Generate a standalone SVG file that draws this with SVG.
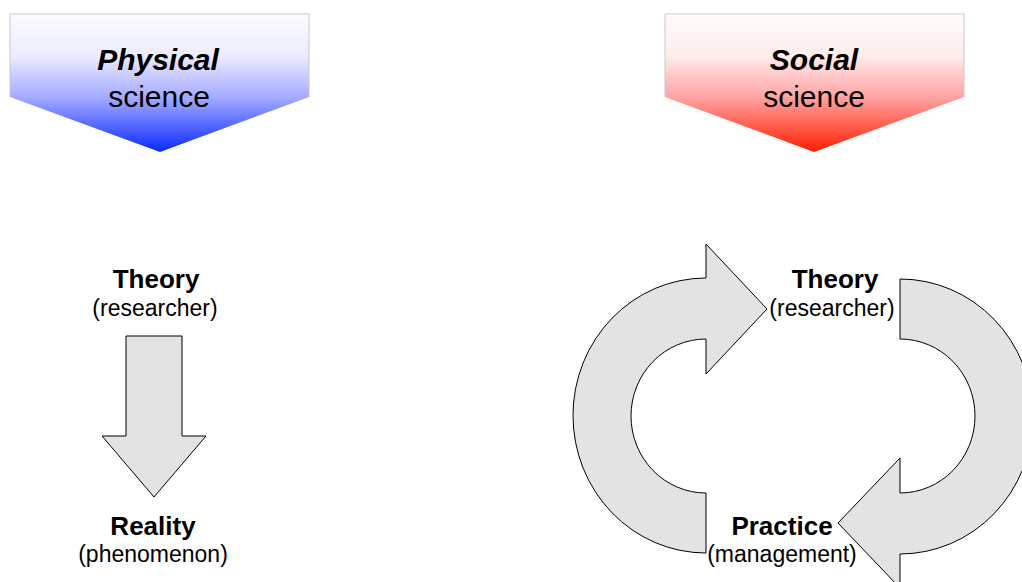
<svg xmlns="http://www.w3.org/2000/svg" width="1022" height="582" viewBox="0 0 1022 582">
  <defs>
    <linearGradient id="gradBlue" x1="0" y1="14" x2="0" y2="152" gradientUnits="userSpaceOnUse">
      <stop offset="0" stop-color="#fcfcff"/>
      <stop offset="0.3" stop-color="#ececff"/>
      <stop offset="0.6" stop-color="#a6acff"/>
      <stop offset="1" stop-color="#0a2aff"/>
    </linearGradient>
    <linearGradient id="gradRed" x1="0" y1="14" x2="0" y2="152" gradientUnits="userSpaceOnUse">
      <stop offset="0" stop-color="#fffcfc"/>
      <stop offset="0.3" stop-color="#ffecec"/>
      <stop offset="0.6" stop-color="#ffa4a4"/>
      <stop offset="1" stop-color="#ff1e00"/>
    </linearGradient>
  </defs>
  <style>
    .label { font-family: "Liberation Sans", Arial, sans-serif; fill: #000; text-anchor: middle; }
    .head1 { font-size: 30px; font-weight: bold; font-style: italic; }
    .head2 { font-size: 30px; }
    .main { font-size: 26px; font-weight: bold; }
    .sub { font-size: 23px; }
    .edge { fill: none; stroke: #c8c8c8; stroke-width: 1; }
    .arrow { fill: #e3e3e3; stroke: #000; stroke-width: 1; stroke-linejoin: miter; }
  </style>
  <rect width="1022" height="582" fill="#fff"/>

  <!-- Physical science banner -->
  <g id="physical-banner">
    <polygon points="10,14 309,14 309,97 160,152 10,97" fill="url(#gradBlue)"/>
    <polyline class="edge" points="10,97 10,14 309,14 309,97"/>
    <text class="label head1" x="158" y="70">Physical</text>
    <text class="label head2" x="159" y="107">science</text>
  </g>

  <!-- Social science banner -->
  <g id="social-banner">
    <polygon points="665,14 964,14 964,97 814,152 665,97" fill="url(#gradRed)"/>
    <polyline class="edge" points="665,97 665,14 964,14 964,97"/>
    <text class="label head1" x="814" y="70">Social</text>
    <text class="label head2" x="814" y="107">science</text>
  </g>

  <!-- Physical science nodes -->
  <g id="theory-physical">
    <text class="label main" x="156" y="288">Theory</text>
    <text class="label sub" x="155" y="316">(researcher)</text>
  </g>
  <g id="reality">
    <text class="label main" x="153" y="535">Reality</text>
    <text class="label sub" x="153" y="562">(phenomenon)</text>
  </g>

  <!-- Social science nodes -->
  <g id="theory-social">
    <text class="label main" x="835" y="288">Theory</text>
    <text class="label sub" x="832" y="316">(researcher)</text>
  </g>
  <g id="practice">
    <text class="label main" x="782" y="535">Practice</text>
    <text class="label sub" x="782" y="562">(management)</text>
  </g>

  <!-- Connectors -->
  <g id="connectors">
    <polygon class="arrow" points="126,336 182,336 182,436 206,436 154,497 102,436 126,436"/>
    <path class="arrow" d="M706,553 A133,137.5 0 0 1 706,278 L706,244 L767,309 L706,374 L706,339 A75,77 0 0 0 706,493 Z"/>
    <path class="arrow" d="M900,279 A133,137.5 0 0 1 900,554 L900,588 L838,523 L900,458 L900,493 A75,77 0 0 0 900,339 Z"/>
  </g>
</svg>
